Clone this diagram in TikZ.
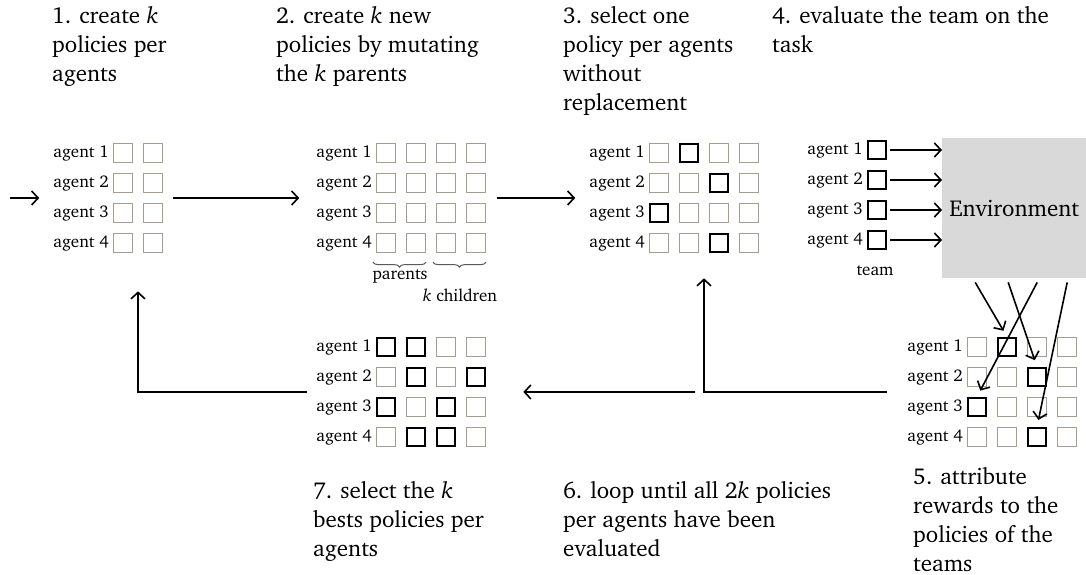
\documentclass[tikz,border=0pt]{standalone}
\usepackage[T1]{fontenc}
\IfFileExists{t1bch.fd}{\renewcommand{\rmdefault}{bch}}{}
\usetikzlibrary{arrows.meta,fit,decorations.pathreplacing,calc}
\definecolor{boxgray}{RGB}{163,158,143}
\definecolor{envgray}{RGB}{217,217,217}
\definecolor{bracegray}{RGB}{90,90,90}
\newcommand{\headfont}{\fontsize{23}{29}\selectfont}
\newcommand{\labfont}{\fontsize{17}{20}\selectfont}
\begin{document}
\begin{tikzpicture}[x=1pt,y=-1pt,
  pbox/.style={draw=boxgray,line width=1.2pt,minimum size=19pt,inner sep=0pt},
  sel/.style={draw=black,line width=2.4pt,minimum size=18pt,inner sep=0pt},
  lab/.style={font=\labfont,inner sep=0pt,anchor=east},
  head/.style={font=\headfont,align=left,anchor=base west,inner sep=0pt},
  arr/.style={-{Straight Barb[length=6.5pt,width=14pt]},line width=1.6pt},
  grp/.style={inner sep=0pt},
  brc/.style={decorate,decoration={brace,mirror,amplitude=5pt},draw=bracegray,line width=1pt},
]
\useasboundingbox (0,0) rectangle (1086,574);

% grid 1
\foreach \r in {1,...,4}{
  \foreach \c in {1,2}{
    \node[pbox] (g1-\r-\c) at ({123+30*(\c-1)},{153+30*(\r-1)}) {};
  }
  \node[lab] (g1-l\r) at (109,{153+30*(\r-1)}) {agent \r};
}
\node[grp,fit=(g1-1-1)(g1-4-2)] (G1) {};

% grid 2
\foreach \r in {1,...,4}{
  \foreach \c in {1,...,4}{
    \node[pbox] (g2-\r-\c) at ({386+30*(\c-1)},{153+30*(\r-1)}) {};
  }
  \node[lab] (g2-l\r) at (372,{153+30*(\r-1)}) {agent \r};
}
\node[grp,fit=(g2-1-1)(g2-4-4)] (G2) {};

% grid 3
\foreach \r/\s in {1/2,2/3,3/1,4/3}{
  \foreach \c in {1,...,4}{
    \ifnum\c=\s\def\st{sel}\else\def\st{pbox}\fi
    \node[\st] (g3-\r-\c) at ({659+30*(\c-1)},{153+30*(\r-1)}) {};
  }
  \node[lab] (g3-l\r) at (645,{153+30*(\r-1)}) {agent \r};
}
\node[grp,fit=(g3-1-1)(g3-4-4)] (G3) {};

% grid 4 (team)
\foreach \r in {1,...,4}{
  \node[sel] (g4-\r-1) at (877,{150+30*(\r-1)}) {};
  \node[lab] (g4-l\r) at (863,{150+30*(\r-1)}) {agent \r};
}
\node[font=\labfont,inner sep=0pt] (team) at (875,271) {team};

% environment
\node[fill=envgray,minimum width=144pt,minimum height=140pt,inner sep=0pt,
      anchor=north west,font=\headfont] (env) at (942,138) {Environment};

% grid 5
\foreach \r/\s in {1/2,2/3,3/1,4/3}{
  \foreach \c in {1,...,4}{
    \ifnum\c=\s\def\st{sel}\else\def\st{pbox}\fi
    \node[\st] (g5-\r-\c) at ({977+30*(\c-1)},{347+30*(\r-1)}) {};
  }
  \node[lab] (g5-l\r) at (963,{347+30*(\r-1)}) {agent \r};
}
\node[grp,fit=(g5-1-1)(g5-4-4)] (G5) {};

% grid 7
\foreach \r/\s/\t in {1/1/2,2/2/4,3/1/3,4/2/3}{
  \foreach \c in {1,...,4}{
    \ifnum\c=\s\def\st{sel}\else\ifnum\c=\t\def\st{sel}\else\def\st{pbox}\fi\fi
    \node[\st] (g7-\r-\c) at ({386+30*(\c-1)},{347+30*(\r-1)}) {};
  }
  \node[lab] (g7-l\r) at (372,{347+30*(\r-1)}) {agent \r};
}
\node[grp,fit=(g7-1-1)(g7-4-4)] (G7) {};

% braces
\draw[brc] ([xshift=-3pt,yshift=-9pt]g2-4-1.south west) -- ([xshift=0pt,yshift=-9pt]g2-4-2.south east);
\draw[brc] ([xshift=-3pt,yshift=-9pt]g2-4-3.south west) -- ([xshift=0pt,yshift=-9pt]g2-4-4.south east);
\node[font=\labfont,inner sep=0pt] (par) at (400,276) {parents};
\node[font=\labfont,inner sep=0pt] (chi) at (460,295) {\textit{k} children};

% headings (base = baseline of the last line)
\node[head] (h1) at (52,81) {1. create \textit{k}\\policies per\\agents};
\node[head] (h2) at (276,81) {2. create \textit{k} new\\policies by mutating\\the \textit{k} parents};
\node[head] (h3) at (563,110) {3. select one\\policy per agents\\without\\replacement};
\node[head] (h4) at (772,52) {4. evaluate the team on the\\task};
\node[head] (h7) at (313,556) {7. select the \textit{k}\\bests policies per\\agents};
\node[head] (h6) at (563,556) {6. loop until all 2\textit{k} policies\\per agents have been\\evaluated};
\node[head] (h5) at (913,571) {5. attribute\\rewards to the\\policies of the\\teams};

% connectors
\coordinate (in0) at (10,198);
\draw[arr] (in0) -- ([xshift=-14pt]g1-l2.west |- G1.center);
\draw[arr] ([xshift=10pt]G1.east) -- ([xshift=-17pt]g2-l2.west |- G1.east);
\draw[arr] ([xshift=11pt]G2.east) -- ([xshift=-14pt]g3-l2.west |- G2.east);
\foreach \r in {1,...,4}{
  \draw[arr] ([xshift=3pt]g4-\r-1.east) -- (g4-\r-1.east -| env.west);
}
\coordinate (e1) at ([xshift=-39pt,yshift=-4pt]env.south);
\coordinate (e2) at ([xshift=-6pt,yshift=-4pt]env.south);
\coordinate (e3) at ([xshift=23pt,yshift=-4pt]env.south);
\coordinate (e4) at ([xshift=53pt,yshift=-4pt]env.south);
\draw[arr,shorten >=7pt] (e1) -- (g5-1-2.north);
\draw[arr,shorten >=7pt] (e2) -- (g5-2-3.north);
\draw[arr,shorten >=7pt] (e3) -- (g5-3-1.north);
\draw[arr,shorten >=7pt] (e4) -- (g5-4-3.north);

\draw[arr] ([xshift=-20pt]g5-l2.west |- G5.center) -| ([yshift=-25pt]G3.south);
\draw[arr] ([xshift=-9pt]G3.south |- G5.center) -- ([xshift=37pt]G7.east);
\draw[arr] ([xshift=-9pt]g7-l2.west |- G7.center) -| ([yshift=-38pt]G1.south);
\end{tikzpicture}
\end{document}
